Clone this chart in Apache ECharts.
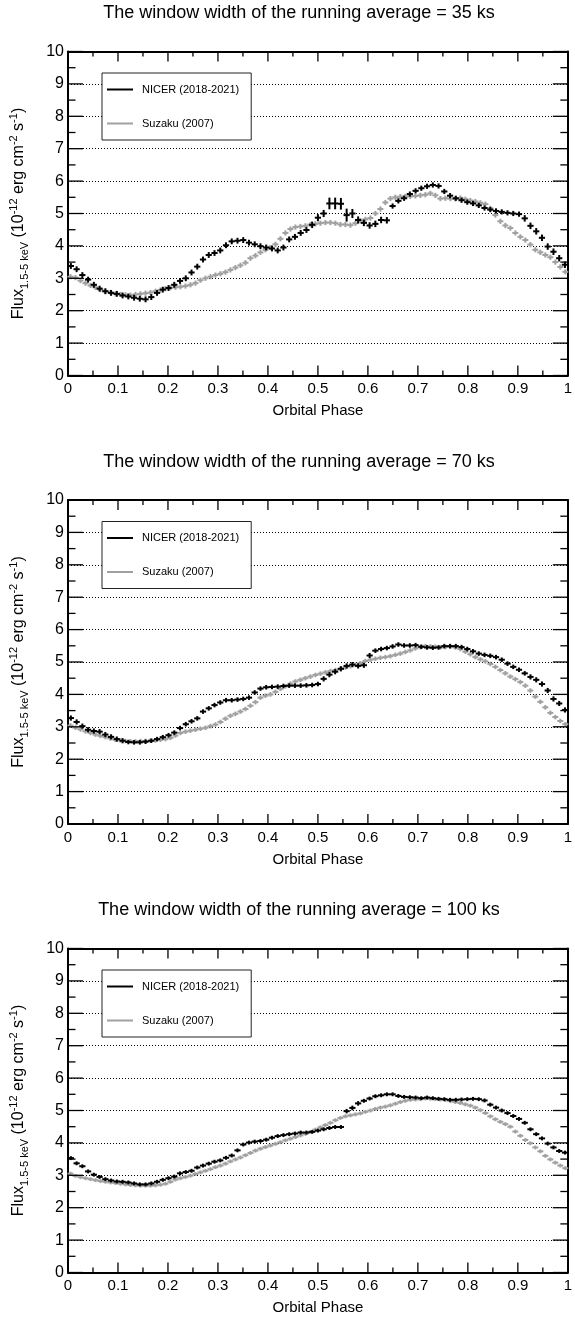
<!DOCTYPE html>
<html><head><meta charset="utf-8">
<script src="https://cdn.jsdelivr.net/npm/echarts@6/dist/echarts.min.js"></script>
<style>html,body{margin:0;padding:0;background:#fff}#c{width:575px;height:1321px}</style>
</head><body><div id="c"></div>
<script>
// ---------------- DATA ----------------
const panelTitles = [
  'The window width of the running average = 35 ks',
  'The window width of the running average = 70 ks',
  'The window width of the running average = 100 ks'
];
const seriesNames = ['NICER (2018-2021)', 'Suzaku (2007)'];
const xTickLabels = ['0','0.1','0.2','0.3','0.4','0.5','0.6','0.7','0.8','0.9','1'];
const yTickLabels = ['0','1','2','3','4','5','6','7','8','9','10'];

// NICER running-average flux, 87 phase bins
const nicer35 = [
  3.38,3.28,3.10,2.96,2.80,2.68,2.60,2.55,2.52,2.47,
  2.44,2.40,2.37,2.35,2.42,2.55,2.65,2.70,2.80,2.92,
  3.00,3.18,3.36,3.58,3.72,3.78,3.86,4.02,4.14,4.16,
  4.18,4.10,4.05,3.99,3.95,3.92,3.86,3.95,4.20,4.28,
  4.40,4.49,4.65,4.87,5.00,5.31,5.31,5.30,4.95,5.00,
  4.80,4.71,4.63,4.68,4.80,4.79,5.23,5.39,5.47,5.60,
  5.70,5.78,5.84,5.88,5.85,5.68,5.55,5.47,5.41,5.35,
  5.31,5.25,5.17,5.12,5.08,5.05,5.02,5.00,4.98,4.85,
  4.62,4.45,4.25,3.98,3.82,3.62,3.42];
const nicerErr35 = [
  0.09,0.09,0.09,0.09,0.09,0.09,0.09,0.09,0.09,0.09,
  0.09,0.09,0.09,0.09,0.09,0.09,0.09,0.09,0.09,0.09,
  0.09,0.09,0.09,0.09,0.09,0.09,0.09,0.09,0.09,0.09,
  0.09,0.09,0.09,0.09,0.09,0.09,0.09,0.09,0.09,0.09,
  0.09,0.09,0.10,0.11,0.11,0.18,0.18,0.18,0.20,0.14,
  0.11,0.10,0.10,0.10,0.10,0.10,0.08,0.08,0.08,0.08,
  0.08,0.08,0.08,0.08,0.08,0.08,0.08,0.08,0.08,0.08,
  0.08,0.08,0.08,0.08,0.08,0.08,0.08,0.08,0.08,0.10,
  0.10,0.10,0.10,0.10,0.10,0.10,0.10];
const nicer70 = [
  3.27,3.15,3.02,2.91,2.87,2.85,2.76,2.69,2.62,2.57,
  2.53,2.52,2.52,2.54,2.57,2.62,2.68,2.74,2.82,2.96,
  3.08,3.17,3.26,3.47,3.57,3.67,3.75,3.82,3.82,3.84,
  3.86,3.90,4.06,4.18,4.22,4.23,4.24,4.26,4.27,4.27,
  4.27,4.28,4.29,4.32,4.48,4.61,4.70,4.79,4.88,4.92,
  4.88,4.90,5.20,5.35,5.40,5.43,5.48,5.54,5.51,5.51,
  5.52,5.47,5.45,5.44,5.45,5.49,5.49,5.49,5.46,5.40,
  5.33,5.26,5.22,5.19,5.15,5.07,4.95,4.85,4.76,4.65,
  4.54,4.45,4.32,4.12,3.86,3.72,3.52];
const nicerErr70 = [
  0.08,0.08,0.08,0.08,0.08,0.08,0.08,0.08,0.08,0.08,
  0.07,0.07,0.07,0.07,0.07,0.07,0.07,0.07,0.07,0.07,
  0.07,0.07,0.07,0.07,0.07,0.07,0.07,0.07,0.07,0.07,
  0.07,0.07,0.07,0.07,0.07,0.07,0.07,0.07,0.07,0.07,
  0.07,0.07,0.07,0.07,0.08,0.08,0.08,0.08,0.08,0.08,
  0.08,0.08,0.08,0.07,0.07,0.07,0.07,0.07,0.07,0.07,
  0.07,0.07,0.07,0.07,0.07,0.07,0.07,0.07,0.07,0.07,
  0.07,0.07,0.07,0.07,0.07,0.07,0.07,0.07,0.07,0.07,
  0.08,0.08,0.08,0.08,0.08,0.08,0.08];
const nicer100 = [
  3.53,3.37,3.28,3.12,3.02,2.95,2.88,2.84,2.81,2.80,
  2.78,2.75,2.72,2.72,2.75,2.80,2.86,2.91,2.96,3.06,
  3.10,3.14,3.24,3.30,3.36,3.42,3.46,3.54,3.61,3.77,
  3.95,4.01,4.04,4.06,4.10,4.16,4.21,4.24,4.27,4.29,
  4.32,4.32,4.34,4.38,4.42,4.46,4.49,4.49,4.98,5.08,
  5.22,5.30,5.37,5.44,5.47,5.50,5.50,5.45,5.42,5.41,
  5.40,5.38,5.40,5.38,5.36,5.35,5.33,5.33,5.34,5.35,
  5.36,5.35,5.31,5.18,5.09,5.00,4.92,4.83,4.74,4.62,
  4.42,4.27,4.14,3.98,3.86,3.75,3.70];
const nicerErr100 = [
  0.06,0.06,0.06,0.06,0.06,0.06,0.06,0.06,0.06,0.06,
  0.06,0.06,0.06,0.06,0.06,0.06,0.06,0.06,0.06,0.06,
  0.06,0.06,0.06,0.06,0.06,0.06,0.06,0.06,0.06,0.06,
  0.06,0.06,0.06,0.06,0.06,0.06,0.06,0.06,0.06,0.06,
  0.06,0.06,0.06,0.06,0.06,0.06,0.06,0.06,0.07,0.07,
  0.07,0.06,0.06,0.06,0.06,0.06,0.06,0.06,0.06,0.06,
  0.06,0.06,0.06,0.06,0.06,0.06,0.06,0.06,0.06,0.06,
  0.06,0.06,0.06,0.06,0.06,0.06,0.06,0.06,0.06,0.06,
  0.06,0.06,0.06,0.06,0.06,0.06,0.06];

// Suzaku running-average flux, 100 phase bins
const suzaku35 = [
  3.05,3.02,2.93,2.85,2.78,2.72,2.65,2.60,2.56,2.52,
  2.50,2.49,2.48,2.50,2.52,2.54,2.56,2.60,2.64,2.68,
  2.71,2.72,2.74,2.76,2.80,2.85,2.94,3.00,3.05,3.10,
  3.14,3.19,3.26,3.33,3.40,3.48,3.62,3.70,3.80,3.88,
  3.95,4.05,4.22,4.40,4.52,4.58,4.60,4.62,4.66,4.68,
  4.70,4.72,4.72,4.70,4.66,4.66,4.64,4.70,4.78,4.82,
  4.86,5.00,5.14,5.34,5.46,5.50,5.52,5.53,5.53,5.54,
  5.56,5.58,5.62,5.56,5.46,5.47,5.46,5.45,5.48,5.44,
  5.40,5.37,5.33,5.29,5.16,4.95,4.76,4.63,4.55,4.40,
  4.28,4.18,4.04,3.88,3.80,3.72,3.65,3.50,3.35,3.20];
const suzaku70 = [
  3.04,2.97,2.92,2.86,2.81,2.76,2.72,2.68,2.64,2.60,
  2.58,2.56,2.55,2.55,2.56,2.56,2.57,2.58,2.60,2.62,
  2.66,2.73,2.81,2.85,2.88,2.91,2.94,2.97,3.02,3.07,
  3.15,3.25,3.34,3.40,3.47,3.55,3.65,3.76,3.90,3.96,
  4.00,4.08,4.17,4.25,4.33,4.40,4.45,4.50,4.55,4.60,
  4.64,4.68,4.72,4.75,4.79,4.83,4.87,4.91,4.96,5.03,
  5.07,5.10,5.13,5.15,5.18,5.22,5.26,5.31,5.36,5.42,
  5.46,5.49,5.48,5.47,5.45,5.46,5.47,5.45,5.40,5.32,
  5.24,5.15,5.08,5.02,4.94,4.85,4.75,4.65,4.55,4.47,
  4.38,4.27,4.12,3.93,3.77,3.60,3.43,3.30,3.18,3.08];
const suzaku100 = [
  3.05,2.98,2.94,2.91,2.88,2.85,2.82,2.80,2.78,2.76,
  2.74,2.72,2.70,2.69,2.68,2.68,2.68,2.69,2.71,2.74,
  2.80,2.87,2.91,2.95,2.99,3.04,3.09,3.14,3.19,3.25,
  3.30,3.36,3.43,3.49,3.55,3.62,3.69,3.76,3.82,3.87,
  3.92,3.97,4.02,4.08,4.13,4.18,4.23,4.28,4.34,4.41,
  4.48,4.55,4.62,4.70,4.77,4.82,4.85,4.88,4.91,4.96,
  5.00,5.05,5.09,5.12,5.16,5.21,5.26,5.30,5.33,5.34,
  5.35,5.37,5.36,5.35,5.34,5.32,5.29,5.26,5.23,5.19,
  5.15,5.09,5.01,4.92,4.82,4.73,4.65,4.58,4.50,4.35,
  4.22,4.09,3.99,3.86,3.74,3.60,3.49,3.39,3.30,3.22];
const suzakuErr35 = [
  0.08,0.08,0.08,0.08,0.08,0.08,0.08,0.08,0.08,0.08,
  0.08,0.08,0.08,0.08,0.08,0.08,0.08,0.08,0.08,0.08,
  0.08,0.08,0.08,0.08,0.08,0.08,0.08,0.08,0.08,0.08,
  0.08,0.08,0.08,0.08,0.08,0.08,0.08,0.08,0.08,0.08,
  0.08,0.08,0.08,0.08,0.08,0.08,0.08,0.08,0.08,0.08,
  0.08,0.08,0.08,0.08,0.08,0.08,0.08,0.08,0.08,0.08,
  0.08,0.08,0.08,0.08,0.08,0.08,0.08,0.08,0.08,0.08,
  0.08,0.08,0.08,0.08,0.08,0.08,0.08,0.08,0.08,0.08,
  0.08,0.08,0.08,0.08,0.08,0.08,0.08,0.08,0.08,0.08,
  0.08,0.08,0.08,0.08,0.08,0.08,0.08,0.08,0.08,0.08];
const suzakuErr70 = [
  0.07,0.07,0.07,0.07,0.07,0.07,0.07,0.07,0.07,0.07,
  0.07,0.07,0.07,0.07,0.07,0.07,0.07,0.07,0.07,0.07,
  0.07,0.07,0.07,0.07,0.07,0.07,0.07,0.07,0.07,0.07,
  0.07,0.07,0.07,0.07,0.07,0.07,0.07,0.07,0.07,0.07,
  0.07,0.07,0.07,0.07,0.07,0.07,0.07,0.07,0.07,0.07,
  0.07,0.07,0.07,0.07,0.07,0.07,0.07,0.07,0.07,0.07,
  0.07,0.07,0.07,0.07,0.07,0.07,0.07,0.07,0.07,0.07,
  0.07,0.07,0.07,0.07,0.07,0.07,0.07,0.07,0.07,0.07,
  0.07,0.07,0.07,0.07,0.07,0.07,0.07,0.07,0.07,0.07,
  0.07,0.07,0.07,0.07,0.07,0.07,0.07,0.07,0.07,0.07];
const suzakuErr100 = [
  0.06,0.06,0.06,0.06,0.06,0.06,0.06,0.06,0.06,0.06,
  0.06,0.06,0.06,0.06,0.06,0.06,0.06,0.06,0.06,0.06,
  0.06,0.06,0.06,0.06,0.06,0.06,0.06,0.06,0.06,0.06,
  0.06,0.06,0.06,0.06,0.06,0.06,0.06,0.06,0.06,0.06,
  0.06,0.06,0.06,0.06,0.06,0.06,0.06,0.06,0.06,0.06,
  0.06,0.06,0.06,0.06,0.06,0.06,0.06,0.06,0.06,0.06,
  0.06,0.06,0.06,0.06,0.06,0.06,0.06,0.06,0.06,0.06,
  0.06,0.06,0.06,0.06,0.06,0.06,0.06,0.06,0.06,0.06,
  0.06,0.06,0.06,0.06,0.06,0.06,0.06,0.06,0.06,0.06,
  0.06,0.06,0.06,0.06,0.06,0.06,0.06,0.06,0.06,0.06];

const panels = [
  {nicer: nicer35, nicerErr: nicerErr35, suzaku: suzaku35, suzakuErr: suzakuErr35},
  {nicer: nicer70, nicerErr: nicerErr70, suzaku: suzaku70, suzakuErr: suzakuErr70},
  {nicer: nicer100, nicerErr: nicerErr100, suzaku: suzaku100, suzakuErr: suzakuErr100}
];

// ---------------- LAYOUT / STYLE ----------------
const FONT = '"Liberation Sans", Arial, Helvetica, sans-serif';
const PLOT_LEFT = 66.7, PLOT_RIGHT = 3, PLOT_H = 324, FIRST_TOP = 51.5, STEP = 448.5;
const NICER_COLOR = '#000000', SUZAKU_COLOR = '#a0a0a0';
const X_MAJOR_LEN = 10, X_MINOR_LEN = 5, Y_MAJOR_LEN = 15, Y_MINOR_LEN = 7.5;

// bin centres of the phase histogram
function binCenters(n) { const a = []; for (let i = 0; i < n; i++) a.push((i + 0.5) / n); return a; }
function toRows(vals, errs) { const c = binCenters(vals.length); return vals.map((v, i) => [c[i], v, errs[i]]); }

// tick rows derived from the tick label arrays: [axisKind, value, isMajor]
function tickRows() {
  const rows = [];
  const xv = xTickLabels.map(Number), yv = yTickLabels.map(Number);
  xv.forEach((v, k) => { rows.push([0, v, 1]); if (k < xv.length - 1) rows.push([0, (v + xv[k + 1]) / 2, 0]); });
  yv.forEach((v, k) => { rows.push([1, v, 1]); if (k < yv.length - 1) rows.push([1, (v + yv[k + 1]) / 2, 0]); });
  return rows;
}
const X_MIN = Number(xTickLabels[0]), X_MAX = Number(xTickLabels[xTickLabels.length - 1]);
const Y_MIN = Number(yTickLabels[0]), Y_MAX = Number(yTickLabels[yTickLabels.length - 1]);

function tickRenderer(params, api) {
  const kind = api.value(0), v = api.value(1), major = api.value(2);
  const st = {stroke: '#000', lineWidth: 1.3};
  if (kind === 0) {
    const b = api.coord([v, Y_MIN]), t = api.coord([v, Y_MAX]);
    const len = major ? X_MAJOR_LEN : X_MINOR_LEN;
    return {type: 'group', children: [
      {type: 'line', shape: {x1: b[0], y1: b[1], x2: b[0], y2: b[1] - len}, style: st},
      {type: 'line', shape: {x1: t[0], y1: t[1], x2: t[0], y2: t[1] + len}, style: st}
    ]};
  }
  const l = api.coord([X_MIN, v]), r = api.coord([X_MAX, v]);
  const len = major ? Y_MAJOR_LEN : Y_MINOR_LEN;
  return {type: 'group', children: [
    {type: 'line', shape: {x1: l[0], y1: l[1], x2: l[0] + len, y2: l[1]}, style: st},
    {type: 'line', shape: {x1: r[0], y1: r[1], x2: r[0] - len, y2: r[1]}, style: st}
  ]};
}

function crossRenderer(halfW, color, lw) {
  return function (params, api) {
    const x = api.value(0), y = api.value(1), e = api.value(2);
    const p = api.coord([x, y]);
    const l = api.coord([x - halfW, y]);
    const r = api.coord([x + halfW, y]);
    const t = api.coord([x, y + e]);
    const b = api.coord([x, y - e]);
    return {type: 'group', children: [
      {type: 'line', shape: {x1: l[0], y1: p[1], x2: r[0], y2: p[1]}, style: {stroke: color, lineWidth: lw}},
      {type: 'line', shape: {x1: p[0], y1: t[1], x2: p[0], y2: b[1]}, style: {stroke: color, lineWidth: lw}}
    ]};
  };
}

const grids = [], xAxes = [], yAxes = [], series = [], titles = [], legends = [];

panels.forEach((pn, i) => {
  const top = FIRST_TOP + STEP * i;
  grids.push({left: PLOT_LEFT, right: PLOT_RIGHT, top: top, height: PLOT_H});
  titles.push({
    text: panelTitles[i], left: 299, top: top - 47, textAlign: 'center', padding: 0,
    textStyle: {fontFamily: FONT, fontSize: 18, fontWeight: 'normal', color: '#000'}
  });
  legends.push({
    data: seriesNames.map((nm, k) => ({name: nm, icon: 'rect',
      itemStyle: {color: k === 0 ? NICER_COLOR : SUZAKU_COLOR}})),
    orient: 'vertical', left: 102, top: top + 21.5,
    itemWidth: 26, itemHeight: 2, itemGap: 23,
    padding: [11, 12, 11, 5], borderColor: '#222', borderWidth: 1,
    backgroundColor: '#fff', selectedMode: false,
    textStyle: {fontFamily: FONT, fontSize: 11, color: '#000', padding: [0, 0, 0, 4]}
  });
  xAxes.push({
    gridIndex: i, type: 'value', min: X_MIN, max: X_MAX, interval: 0.1, position: 'bottom',
    name: 'Orbital Phase', nameLocation: 'middle', nameGap: 28,
    nameTextStyle: {fontFamily: FONT, fontSize: 15, color: '#000'},
    axisLine: {show: true, onZero: false, lineStyle: {color: '#000', width: 2}},
    axisTick: {show: false}, minorTick: {show: false},
    axisLabel: {show: true, margin: 6, fontFamily: FONT, fontSize: 15, color: '#000',
      formatter: v => xTickLabels[Math.round(v * 10)]},
    splitLine: {show: false}
  });
  xAxes.push({
    gridIndex: i, type: 'value', min: X_MIN, max: X_MAX, interval: 0.1, position: 'top',
    axisLine: {show: true, onZero: false, lineStyle: {color: '#000', width: 2}},
    axisTick: {show: false}, minorTick: {show: false},
    axisLabel: {show: false}, splitLine: {show: false}
  });
  yAxes.push({
    gridIndex: i, type: 'value', min: Y_MIN, max: Y_MAX, interval: 1, position: 'left',
    name: '{m|Flux}{s|1.5-5 keV}{m| (10}{p|-12}{m| erg cm}{p|-2}{m| s}{p|-1}{m|)}',
    nameLocation: 'middle', nameGap: 38, nameRotate: 90,
    nameTextStyle: {rich: {
      m: {fontFamily: FONT, fontSize: 16, color: '#000', lineHeight: 22},
      s: {fontFamily: FONT, fontSize: 11, color: '#000', lineHeight: 11, verticalAlign: 'bottom'},
      p: {fontFamily: FONT, fontSize: 11, color: '#000', lineHeight: 11, verticalAlign: 'top'}
    }},
    axisLine: {show: true, onZero: false, lineStyle: {color: '#000', width: 2}},
    axisTick: {show: false}, minorTick: {show: false},
    axisLabel: {show: true, margin: 4, fontFamily: FONT, fontSize: 16, color: '#000',
      formatter: v => yTickLabels[Math.round(v)]},
    splitLine: {show: true, lineStyle: {color: '#000', width: 1, type: [1, 2]}}
  });
  yAxes.push({
    gridIndex: i, type: 'value', min: Y_MIN, max: Y_MAX, interval: 1, position: 'right',
    axisLine: {show: true, onZero: false, lineStyle: {color: '#000', width: 2}},
    axisTick: {show: false}, minorTick: {show: false},
    axisLabel: {show: false}, splitLine: {show: false}
  });
  series.push({
    type: 'custom', name: 'ticks', xAxisIndex: 2 * i, yAxisIndex: 2 * i,
    silent: true, clip: false, renderItem: tickRenderer,
    encode: {x: 1, y: 1}, data: tickRows(), z: 10
  });
  series.push({
    type: 'custom', name: seriesNames[1], xAxisIndex: 2 * i, yAxisIndex: 2 * i,
    itemStyle: {color: SUZAKU_COLOR},
    renderItem: crossRenderer(0.006, SUZAKU_COLOR, 2),
    encode: {x: 0, y: 1}, data: toRows(pn.suzaku, pn.suzakuErr), z: 2
  });
  series.push({
    type: 'custom', name: seriesNames[0], xAxisIndex: 2 * i, yAxisIndex: 2 * i,
    itemStyle: {color: NICER_COLOR},
    renderItem: crossRenderer(0.0062, NICER_COLOR, 2),
    encode: {x: 0, y: 1}, data: toRows(pn.nicer, pn.nicerErr), z: 3
  });
});

const chart = echarts.init(document.getElementById('c'), null, {renderer: 'canvas'});
chart.setOption({
  animation: false, backgroundColor: '#fff',
  title: titles, legend: legends, grid: grids, xAxis: xAxes, yAxis: yAxes, series: series
});
</script></body></html>
